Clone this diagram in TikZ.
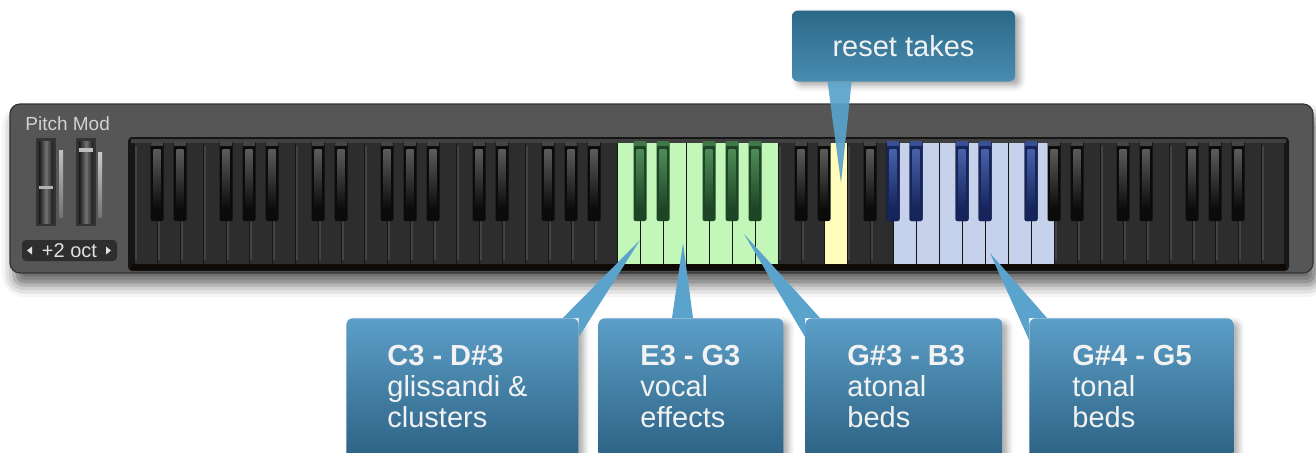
\documentclass[tikz,border=0pt]{standalone}
\usepackage{fontspec}
\setmainfont{Liberation Sans}
\usetikzlibrary{shadows.blur}

\definecolor{panelGrey}{HTML}{565656}
\definecolor{frameDark}{HTML}{161616}
\definecolor{keyDark}{HTML}{2D2D2D}
\definecolor{keyLine}{HTML}{434343}
\definecolor{keyBlack}{HTML}{0B0B0B}
\definecolor{keyShine}{HTML}{5C5C5C}
\definecolor{greenKey}{HTML}{C2F7B9}
\definecolor{greenBlack}{HTML}{1D4525}
\definecolor{greenShine}{HTML}{4E8C57}
\definecolor{yellowKey}{HTML}{FFFCBC}
\definecolor{blueKey}{HTML}{C6D1EC}
\definecolor{blueBlack}{HTML}{15245A}
\definecolor{blueShine}{HTML}{4862AA}
\definecolor{calloutTop}{HTML}{5C9EC7}
\definecolor{calloutBottom}{HTML}{285D7E}
\definecolor{resetTop}{HTML}{2C6989}
\definecolor{resetBottom}{HTML}{488CB0}
\definecolor{pointerBlue}{HTML}{5AA3CC}
\definecolor{calloutText}{HTML}{F2F2F2}

% one black key on the boundary #1 (body colour #2, shine colour #3)
\newcommand\blackkey[3]{%
  \fill[#2,rounded corners=1pt] ({134+23*#1-6.5},141) rectangle ({134+23*#1+6.5},221);
  \fill[top color=#3,bottom color=#2] ({134+23*#1-3.5},149) rectangle ({134+23*#1+3.5},209);
  \fill[#3!70!#2] ({134+23*#1-6},141) rectangle ({134+23*#1+6},146);
}

\begin{document}
\begin{tikzpicture}[x=0.5pt,y=-0.5pt,
    callout/.style={anchor=north west,inner sep=0pt,rounded corners=3pt,
      top color=calloutTop,bottom color=calloutBottom,minimum height=76pt,
      blur shadow={shadow xshift=2.5pt,shadow yshift=-2pt,shadow blur radius=3pt,shadow opacity=35}},
    pointer/.style={fill=pointerBlue},
    calltext/.style={anchor=base west,inner sep=0pt,align=left,text=calloutText,
      font=\fontsize{14.5}{15.5}\selectfont}]
\useasboundingbox (0,0) rectangle (1316,452);
\clip (0,0) rectangle (1316,452);

% panel
\fill[panelGrey,draw=black!80,line width=0.6pt,rounded corners=5pt,
  blur shadow={shadow xshift=2pt,shadow yshift=-6pt,shadow blur radius=6pt,shadow opacity=60}]
  (10,104) rectangle (1313,273);
\node[anchor=base west,inner sep=0pt,text=black!18,font=\fontsize{9.5}{11}\selectfont] (pitchmod) at (25,130) {Pitch Mod};

% wheels
\fill[black!80] (36,138) rectangle (56,226);
\fill[left color=black!90,right color=black!90,middle color=black!55] (39,141) rectangle (53,223);
\fill[black!30] (39,186) rectangle (53,189);
\fill[top color=black!25,bottom color=black!55] (59,150) rectangle (63,217);
\fill[black!80] (76,138) rectangle (96,226);
\fill[left color=black!90,right color=black!90,middle color=black!55] (79,141) rectangle (93,223);
\fill[black!25] (79,148) rectangle (93,152);
\fill[top color=black!20,bottom color=black!55] (98,152) rectangle (102,217);
\node[fill=black!82,rounded corners=2pt,minimum width=47.5pt,minimum height=10.5pt,inner sep=0pt,
  text=black!12,font=\fontsize{10}{11}\selectfont] (octave) at (69.5,250.5) {+2 oct};
\fill[black!12] (27,250.5) -- (32,246.5) -- (32,254.5) -- cycle;
\fill[black!12] (111,250.5) -- (106,246.5) -- (106,254.5) -- cycle;

% keyboard
\fill[frameDark,rounded corners=2pt] (128,137) rectangle (1289,271);
\fill[black!75] (131,139) rectangle (1286,143);
\foreach \i in {0,...,49} {
  \fill[keyDark] ({134+23*\i+0.5},143) rectangle ({134+23*\i+22.5},264);
  \draw[keyLine,line width=0.7pt] ({134+23*\i+2},146) -- ({134+23*\i+2},260);
}
\foreach \i in {21,...,27}
  \fill[greenKey] ({134+23*\i+0.5},143) rectangle ({134+23*\i+22.5},264);
\fill[yellowKey] ({134+23*30+0.5},143) rectangle ({134+23*30+22.5},264);
\foreach \i in {33,...,39}
  \fill[blueKey] ({134+23*\i+0.5},143) rectangle ({134+23*\i+22.5},264);
\fill[black!92!brown] (131,264) rectangle (1286,270);
\foreach \o in {0,1,2,4,5,6} \foreach \k in {1,2,4,5,6} {
  \pgfmathtruncatemacro\b{7*\o+\k}
  \blackkey{\b}{keyBlack}{keyShine}
}
\foreach \b in {22,23,25,26,27} {\blackkey{\b}{greenBlack}{greenShine}}
\foreach \b in {33,34,36,37,39} {\blackkey{\b}{blueBlack}{blueShine}}

% callouts
\node[anchor=center,inner sep=0pt,rounded corners=3pt,top color=resetTop,bottom color=resetBottom,
  minimum width=111.5pt,minimum height=35.5pt,text=calloutText,font=\fontsize{14.5}{15.5}\selectfont,
  blur shadow={shadow xshift=2.5pt,shadow yshift=-2pt,shadow blur radius=3pt,shadow opacity=35}]
  (reset) at (903.5,46) {reset takes};
\coordinate (resetTip) at (841,183);
\fill[pointer,opacity=0.92] ([shift={(36,0)}]reset.south west) -- (resetTip) -- ([shift={(60,0)}]reset.south west) -- cycle;

\node[callout,minimum width=116pt] (glissBox) at (346,318) {};
\node[callout,minimum width=92.5pt] (vocalBox) at (598,318) {};
\node[callout,minimum width=98.5pt] (atonalBox) at (805,318) {};
\node[callout,minimum width=102pt] (tonalBox) at (1029,318) {};

\coordinate (glissTip) at (640,240);
\coordinate (vocalTip) at (683,243);
\coordinate (atonalTip) at (744,234);
\coordinate (tonalTip) at (990,253);
\fill[pointer] ([shift={(-16,0)}]glissBox.north east) -- (glissTip) -- ([shift={(0,19)}]glissBox.north east) -- (glissBox.north east) -- cycle;
\fill[pointer] ([shift={(74,0)}]vocalBox.north west) -- (vocalTip) -- ([shift={(95,0)}]vocalBox.north west) -- cycle;
\fill[pointer] ([shift={(15,0)}]atonalBox.north west) -- (atonalTip) -- ([shift={(0,19)}]atonalBox.north west) -- (atonalBox.north west) -- cycle;
\fill[pointer] ([shift={(18,0)}]tonalBox.north west) -- (tonalTip) -- ([shift={(0,22)}]tonalBox.north west) -- (tonalBox.north west) -- cycle;

% base of a three-line text is its last line
\node[calltext] (glissText) at ([shift={(41,109)}]glissBox.north west) {\textbf{C3 - D\#3}\\glissandi \&\\clusters};
\node[calltext] (vocalText) at ([shift={(42,109)}]vocalBox.north west) {\textbf{E3 - G3}\\vocal\\effects};
\node[calltext] (atonalText) at ([shift={(42,109)}]atonalBox.north west) {\textbf{G\#3 - B3}\\atonal\\beds};
\node[calltext] (tonalText) at ([shift={(43,109)}]tonalBox.north west) {\textbf{G\#4 - G5}\\tonal\\beds};
\end{tikzpicture}
\end{document}
